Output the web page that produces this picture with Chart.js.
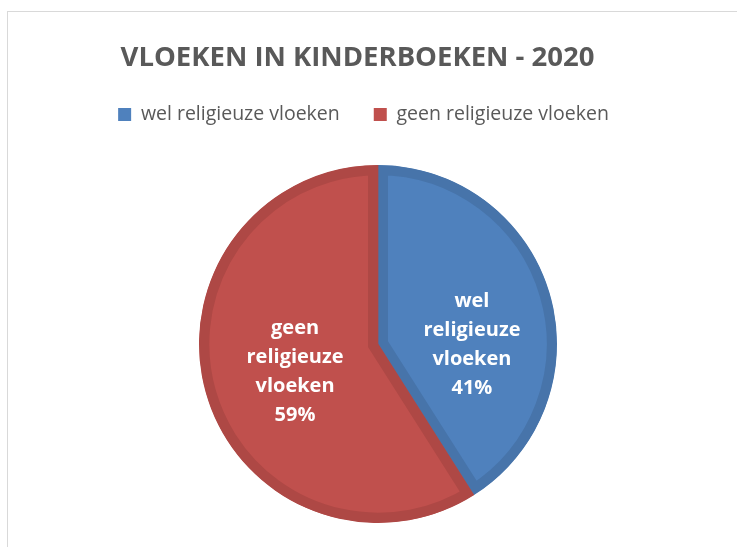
<!DOCTYPE html>
<html>
<head>
<meta charset="utf-8">
<title>Vloeken in kinderboeken - 2020</title>
<script src="https://cdn.jsdelivr.net/npm/chart.js@4.4.1/dist/chart.umd.min.js"></script>
<style>
  html, body { margin: 0; padding: 0; background: #fff; overflow: hidden; }
  #wrap { position: relative; width: 737px; height: 547px; }
  #frame { position: absolute; left: 7px; top: 11px; right: -2px; bottom: -5px;
           border-top: 1px solid #d9d9d9; border-left: 1px solid #d9d9d9; }
  #pieChart { position: absolute; left: 0; top: 0; }
</style>
</head>
<body>
<div id="wrap">
  <div id="frame"></div>
  <canvas id="pieChart" width="737" height="547"></canvas>
</div>
<script>
// Données
var categories = ['wel religieuze vloeken', 'geen religieuze vloeken'];
var percentages = [41, 59];
var sliceLabels = [['wel', 'religieuze', 'vloeken'], ['geen', 'religieuze', 'vloeken']];
var titleText = 'VLOEKEN IN KINDERBOEKEN - 2020';

var fillColors = ['#4F81BD', '#C0504D'];
var edgeColors = ['#4774AA', '#AE4845'];
var textGray = '#595959';

// Décale le titre et la légende après le calcul de la mise en page
var nudgePlugin = {
  id: 'nudge',
  afterLayout: function (chart, args, opts) {
    var t = chart.titleBlock;
    var l = chart.legend;
    t.left += opts.titleX; t.right += opts.titleX;
    l.left += opts.legendX; l.right += opts.legendX;
    l.top += opts.legendY; l.bottom += opts.legendY;
  }
};

// Étiquettes blanches dans les parts
var sliceLabelPlugin = {
  id: 'sliceLabels',
  afterDatasetsDraw: function (chart, args, opts) {
    var ctx = chart.ctx;
    var meta = chart.getDatasetMeta(0);
    var data = chart.data.datasets[0].data;
    var total = data.reduce(function (a, b) { return a + b; }, 0);
    ctx.save();
    ctx.font = opts.font;
    ctx.fillStyle = opts.color;
    ctx.textAlign = 'center';
    ctx.textBaseline = 'middle';
    meta.data.forEach(function (arc, i) {
      var p = arc.getProps(['x', 'y', 'startAngle', 'endAngle', 'outerRadius'], true);
      var mid = (p.startAngle + p.endAngle) / 2;
      var cx = p.x + Math.cos(mid) * p.outerRadius * opts.radiusFactor + opts.shift[i][0];
      var cy = p.y + Math.sin(mid) * p.outerRadius * opts.radiusFactor + opts.shift[i][1];
      var lines = sliceLabels[i].concat(Math.round(data[i] / total * 100) + '%');
      var y0 = cy - (lines.length - 1) * opts.lineHeight / 2;
      lines.forEach(function (txt, k) {
        ctx.fillText(txt, cx, y0 + k * opts.lineHeight);
      });
    });
    ctx.restore();
  }
};

var ctx = document.getElementById('pieChart').getContext('2d');
var pieChart = new Chart(ctx, {
  type: 'pie',
  data: {
    labels: categories,
    datasets: [{
      data: percentages,
      backgroundColor: fillColors,
      borderColor: edgeColors,
      borderWidth: 10,
      borderAlign: 'inner',
      borderJoinStyle: 'miter',
      hoverOffset: 0,
      hoverBorderWidth: 10
    }]
  },
  plugins: [nudgePlugin, sliceLabelPlugin],
  options: {
    responsive: false,
    animation: false,
    events: [],
    rotation: 0,
    layout: {
      padding: { left: 19, right: 0, top: 0, bottom: 24 }
    },
    plugins: {
      title: {
        display: true,
        text: titleText,
        color: textGray,
        font: { family: '"Open Sans", sans-serif', size: 27.5, weight: 'bold', lineHeight: 1.2 },
        padding: { top: 41.5, bottom: 27 }
      },
      legend: {
        display: true,
        position: 'top',
        labels: {
          boxWidth: 13,
          boxHeight: 13,
          padding: 34,
          color: textGray,
          font: { family: '"Open Sans", sans-serif', size: 19.5 },
          generateLabels: function () {
            return categories.map(function (c, i) {
              return {
                text: c,
                fillStyle: fillColors[i],
                strokeStyle: fillColors[i],
                lineWidth: 0,
                fontColor: textGray,
                hidden: false,
                index: i
              };
            });
          }
        }
      },
      tooltip: { enabled: false },
      nudge: { titleX: -20.5, legendX: -14.5, legendY: -30.75 },
      sliceLabels: {
        font: 'bold 20px "Open Sans", sans-serif',
        color: '#ffffff',
        lineHeight: 29,
        radiusFactor: 0.5,
        shift: [[8, 26], [3, 3]]
      }
    }
  }
});
</script>
</body>
</html>
